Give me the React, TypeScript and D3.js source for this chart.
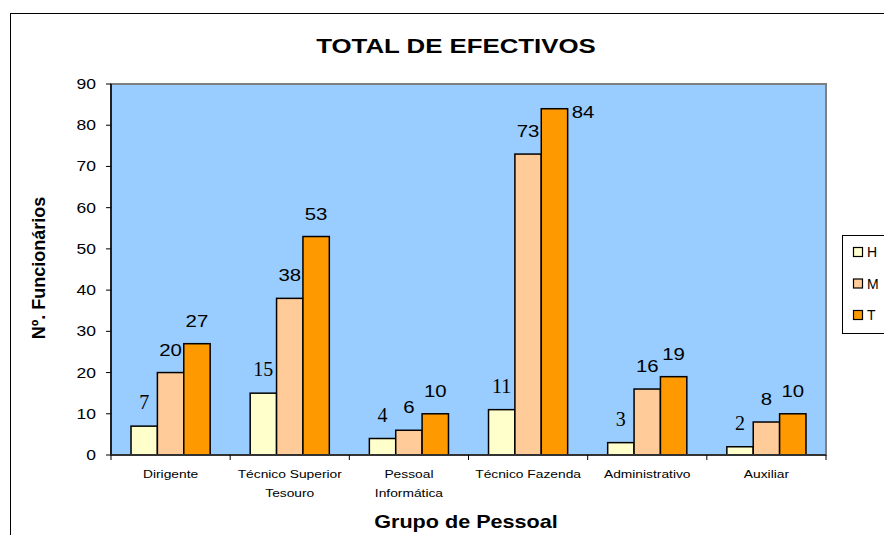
import React from "react";
import * as d3 from "d3";

const categories = [
  ["Dirigente"],
  ["Técnico Superior", "Tesouro"],
  ["Pessoal", "Informática"],
  ["Técnico Fazenda"],
  ["Administrativo"],
  ["Auxiliar"],
];
const seriesNames = ["H", "M", "T"];
const valuesH = [7, 15, 4, 11, 3, 2];
const valuesM = [20, 38, 6, 73, 16, 8];
const valuesT = [27, 53, 10, 84, 19, 10];
const colors = ["#FFFFCC", "#FFCC99", "#FF9900"];
const yTicks = [0, 10, 20, 30, 40, 50, 60, 70, 80, 90];

const SANS = "'Liberation Sans', Arial, sans-serif";
const SERIF = "'Liberation Serif', 'Times New Roman', 'DejaVu Serif', serif";

function Txt(props: any) {
  const { x, y, sx = 1.2, anchor = "middle", family = SANS, size, weight, children, rotate } = props;
  const tf = rotate ? `translate(${x},${y}) rotate(${rotate}) scale(1,${sx})` : `translate(${x},${y}) scale(${sx},1)`;
  return (
    <text transform={tf} textAnchor={anchor} style={{ fontFamily: family, fontSize: size, fontWeight: weight }}>
      {children}
    </text>
  );
}

export default function App() {
  const W = 884, H = 535;
  const left = 111, right = 826, top = 84, bottom = 455;
  const series = [valuesH, valuesM, valuesT];
  const x0 = d3.scaleBand<number>().domain(d3.range(categories.length)).range([left, right]).paddingInner(0).paddingOuter(0);
  const bw = x0.bandwidth();
  const groupPad = 0.168;
  const x1 = d3.scaleBand<number>().domain([0, 1, 2]).range([bw * groupPad, bw * (1 - groupPad)]).padding(0);
  const y = d3.scaleLinear().domain([0, 90]).range([bottom, top]);

  return (
    <svg width={W} height={H} style={{ position: "absolute", left: 0, top: 0, background: "#fff" }}>
      <rect x={10.5} y={13.5} width={900} height={600} fill="#fff" stroke="#000" strokeWidth={1} />
      <Txt x={456} y={53} size={21} weight="bold" sx={1.23}>TOTAL DE EFECTIVOS</Txt>
      <rect x={left} y={top} width={right - left} height={bottom - top} fill="#99CCFF" stroke="#808080" strokeWidth={2} />
      {/* y axis */}
      <line x1={left} x2={left} y1={top} y2={bottom} stroke="#000" strokeWidth={1.5} />
      {yTicks.map((t) => (
        <g key={t}>
          <line x1={left - 5} x2={left} y1={y(t)} y2={y(t)} stroke="#000" />
          <Txt x={96} y={y(t) + 5} anchor="end" size={14} sx={1.25}>{t}</Txt>
        </g>
      ))}
      {/* bars */}
      {categories.map((c, i) => (
        <g key={i} transform={`translate(${x0(i)},0)`}>
          {series.map((s, j) => (
            <rect key={j} x={x1(j)} y={y(s[i])} width={x1.bandwidth()} height={bottom - y(s[i])} fill={colors[j]} stroke="#000" strokeWidth={1.5} />
          ))}
        </g>
      ))}
      {/* bottom axis */}
      <line x1={left} x2={right} y1={bottom} y2={bottom} stroke="#333" strokeWidth={2} />
      {d3.range(categories.length + 1).map((i) => (
        <line key={i} x1={left + i * bw} x2={left + i * bw} y1={bottom} y2={bottom + 5} stroke="#000" />
      ))}
      {/* labels */}
      {categories.map((c, i) =>
        series.map((s, j) => {
          const cx = (x0(i) as number) + (x1(j) as number) + x1.bandwidth() / 2;
          const yt = y(s[i]);
          const serif = j === 0;
          const tooHigh = yt - 17 - 14 < top;
          return (
            <Txt key={`${i}-${j}`}
              x={tooHigh ? cx + x1.bandwidth() / 2 + 4 : cx}
              y={tooHigh ? yt + 9 : yt - 17}
              anchor={tooHigh ? "start" : "middle"}
              family={serif ? SERIF : SANS}
              sx={serif ? 1 : 1.2}
              size={serif ? 20 : 17}>{s[i]}</Txt>
          );
        })
      )}
      {categories.map((c, i) =>
        c.map((l, k) => (
          <Txt key={`${i}-${k}`} x={(x0(i) as number) + bw / 2} y={478 + k * 19} size={11.5} sx={1.2}>{l}</Txt>
        ))
      )}
      <Txt x={466} y={528} size={18} weight="bold" sx={1.2}>Grupo de Pessoal</Txt>
      <Txt x={45} y={268} size={18} weight="bold" rotate={-90} sx={1.05}>Nº. Funcionários</Txt>
      {/* legend */}
      <rect x={842.5} y={235.5} width={60} height={98} fill="#fff" stroke="#000" />
      {seriesNames.map((n, j) => (
        <g key={n}>
          <rect x={853.5} y={247.5 + j * 31.5} width={9} height={9} fill={colors[j]} stroke="#000" strokeWidth={1.2} />
          <Txt x={867} y={257 + j * 31.5} anchor="start" size={14} sx={1}>{n}</Txt>
        </g>
      ))}
    </svg>
  );
}
